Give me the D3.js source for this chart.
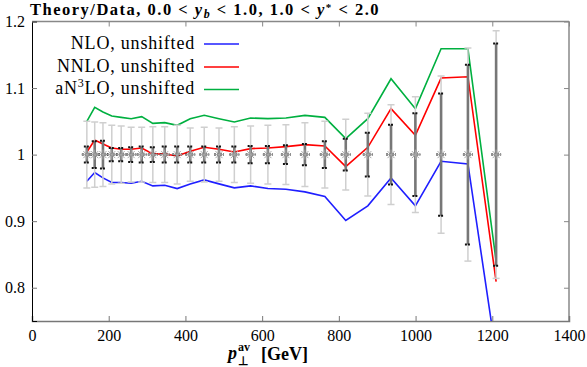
<!DOCTYPE html>
<html>
<head>
<meta charset="utf-8">
<script src="https://cdn.jsdelivr.net/npm/d3@7"></script>
<style>
  html, body { margin: 0; padding: 0; background: #fff; }
  svg { display: block; }
  text { font-family: "Liberation Serif", "Times New Roman", serif; fill: #000; }
</style>
</head>
<body>
<svg id="chart" width="587" height="367"></svg>
<script>
// ---- data ----
const ptAv = [143, 163.5, 185, 208, 232.5, 258.5, 286, 315, 346, 378.5, 412.5, 449, 487.5, 527.5, 570, 615, 662, 711.5, 763.5, 818, 875.5, 936, 999.5, 1066.5, 1136.5, 1210];
const nloRatio = [0.960, 0.973, 0.965, 0.958, 0.958, 0.957, 0.960, 0.953, 0.954, 0.949, 0.956, 0.962, 0.956, 0.950, 0.953, 0.949, 0.948, 0.944, 0.937, 0.901, 0.923, 0.965, 0.923, 0.990, 0.986, 0.700];
const nnloRatio = [1.004, 1.022, 1.016, 1.010, 1.008, 1.008, 1.010, 1.001, 1.001, 0.998, 1.005, 1.011, 1.008, 1.004, 1.009, 1.010, 1.012, 1.015, 1.013, 0.982, 1.011, 1.069, 1.029, 1.115, 1.117, 0.809];
const an3loRatio = [1.050, 1.071, 1.064, 1.058, 1.056, 1.054, 1.057, 1.047, 1.048, 1.044, 1.054, 1.059, 1.054, 1.049, 1.055, 1.054, 1.055, 1.059, 1.056, 1.024, 1.054, 1.114, 1.069, 1.159, 1.159, 0.840];
const dataRatio = [1, 1, 1, 1, 1, 1, 1, 1, 1, 1, 1, 1, 1, 1, 1, 1, 1, 1, 1, 1, 1, 1, 1, 1, 1, 1];
const errInner = [0.012, 0.020, 0.021, 0.010, 0.010, 0.011, 0.012, 0.011, 0.012, 0.012, 0.012, 0.012, 0.012, 0.012, 0.013, 0.013, 0.014, 0.016, 0.020, 0.024, 0.033, 0.045, 0.062, 0.092, 0.135, 0.167];
const errOuter = [0.050, 0.049, 0.048, 0.044, 0.043, 0.041, 0.041, 0.042, 0.042, 0.044, 0.040, 0.041, 0.040, 0.042, 0.043, 0.044, 0.045, 0.048, 0.050, 0.053, 0.062, 0.075, 0.087, 0.118, 0.160, 0.186];
const xTickValues = [0, 200, 400, 600, 800, 1000, 1200, 1400];
const yTickValues = [0.8, 0.9, 1.0, 1.1, 1.2];
const yTickLabels = ["0.8", "0.9", "1", "1.1", "1.2"];
const seriesNames = ["NLO, unshifted", "NNLO, unshifted", "aN3LO, unshifted"];
const seriesColors = ["#1f1fff", "#ff0000", "#00b040"];

// ---- layout ----
const L = 32, R = 569, T = 21.5, B = 321;
const svg = d3.select("#chart");
const x = d3.scaleLinear().domain([0, 1400]).range([L, R]);
const y = d3.scaleLinear().domain([0.75, 1.2]).range([B, T]);

svg.append("defs").append("clipPath").attr("id", "clip")
  .append("rect").attr("x", L).attr("y", T).attr("width", R - L).attr("height", B - T);

// frame
svg.append("line").attr("x1", L).attr("x2", R).attr("y1", T).attr("y2", T).attr("stroke", "#888").attr("stroke-width", 1.5);
svg.append("line").attr("x1", R).attr("x2", R).attr("y1", T).attr("y2", B).attr("stroke", "#888").attr("stroke-width", 1.5);

// axes
const xAxis = d3.axisBottom(x).tickValues(xTickValues).tickSize(-5).tickPadding(8).tickFormat(d3.format("d"));
const gx = svg.append("g").attr("transform", `translate(0,${B})`).call(xAxis);
gx.select(".domain").attr("stroke", "#777").attr("stroke-width", 1.5);
gx.selectAll(".tick line").attr("stroke", "#777");
gx.selectAll(".tick text").attr("font-family", "Liberation Serif").attr("font-size", 16).attr("dy", "0.75em").attr("fill", "#000");

const xAxisTop = d3.axisTop(x).tickValues(xTickValues).tickSize(-5).tickFormat("");
const gxt = svg.append("g").attr("transform", `translate(0,${T})`).call(xAxisTop);
gxt.select(".domain").remove();
gxt.selectAll(".tick line").attr("stroke", "#888");

const yAxis = d3.axisLeft(y).tickValues(yTickValues).tickSize(-5).tickPadding(7)
  .tickFormat((d, i) => yTickLabels[i]);
const gy = svg.append("g").attr("transform", `translate(${L},0)`).call(yAxis);
gy.select(".domain").attr("stroke", "#000").attr("stroke-width", 1);
gy.selectAll(".tick line").attr("stroke", "#777");
gy.selectAll(".tick text").attr("font-family", "Liberation Serif").attr("font-size", 16).attr("fill", "#000");

const yAxisRight = d3.axisRight(y).tickValues(yTickValues).tickSize(-5).tickFormat("");
const gyr = svg.append("g").attr("transform", `translate(${R},0)`).call(yAxisRight);
gyr.select(".domain").remove();
gyr.selectAll(".tick line").attr("stroke", "#888");

// theory lines
const plot = svg.append("g").attr("clip-path", "url(#clip)");
const series = [nloRatio, nnloRatio, an3loRatio];
const line = d3.line().x((d, i) => x(ptAv[i])).y(d => y(d));
series.forEach((s, k) => {
  plot.append("path").datum(s).attr("d", line)
    .attr("fill", "none").attr("stroke", seriesColors[k]).attr("stroke-width", 1.6)
    .attr("stroke-linejoin", "miter");
});

// data points with error bars
const pts = plot.selectAll("g.pt").data(ptAv.map((p, i) => ({ p, v: dataRatio[i], ei: errInner[i], eo: errOuter[i] })))
  .enter().append("g").attr("class", "pt");
// outer (light) bars
pts.append("line").attr("x1", d => x(d.p)).attr("x2", d => x(d.p))
  .attr("y1", d => y(d.v + d.eo)).attr("y2", d => y(d.v - d.eo))
  .attr("stroke", "#cfcfcf").attr("stroke-width", 1.5);
[1, -1].forEach(sg => {
  pts.append("line").attr("x1", d => x(d.p) - 3.5).attr("x2", d => x(d.p) + 3.5)
    .attr("y1", d => y(d.v + sg * d.eo)).attr("y2", d => y(d.v + sg * d.eo))
    .attr("stroke", "#cfcfcf").attr("stroke-width", 1.5);
});
// inner (dark) bars
pts.append("line").attr("x1", d => x(d.p)).attr("x2", d => x(d.p))
  .attr("y1", d => y(d.v + d.ei)).attr("y2", d => y(d.v - d.ei))
  .attr("stroke", "#777").attr("stroke-width", 2.6);
[1, -1].forEach(sg => {
  pts.append("line").attr("x1", d => x(d.p) - 3).attr("x2", d => x(d.p) + 3)
    .attr("y1", d => y(d.v + sg * d.ei)).attr("y2", d => y(d.v + sg * d.ei))
    .attr("stroke", "#111").attr("stroke-width", 2).attr("stroke-dasharray", "2,1");
});
// center marker: black dotted bar + gray asterisk
pts.append("line").attr("x1", d => x(d.p) - 5).attr("x2", d => x(d.p) + 5)
  .attr("y1", d => y(d.v)).attr("y2", d => y(d.v))
  .attr("stroke", "#111").attr("stroke-width", 2).attr("stroke-dasharray", "2,1");
[0, 45, 90, 135].forEach(a => {
  const r = 5, dx = r * Math.cos(a * Math.PI / 180), dy = r * Math.sin(a * Math.PI / 180);
  pts.append("line").attr("x1", d => x(d.p) - dx).attr("x2", d => x(d.p) + dx)
    .attr("y1", d => y(d.v) - dy).attr("y2", d => y(d.v) + dy)
    .attr("stroke", "#a8a8a8").attr("stroke-width", 1);
});

// legend
const legRows = [48.5, 71.5, 94];
seriesNames.forEach((name, k) => {
  const t = svg.append("text").attr("x", 195).attr("y", legRows[k]).attr("text-anchor", "end")
    .attr("font-size", 18).attr("letter-spacing", 0.8);
  if (k === 2) {
    t.append("tspan").text("aN");
    t.append("tspan").attr("dy", -7).attr("font-size", 12).text("3");
    t.append("tspan").attr("dy", 7).text("LO, unshifted");
  } else {
    t.text(name);
  }
  svg.append("line").attr("x1", 204).attr("x2", 239).attr("y1", legRows[k] - 4.5).attr("y2", legRows[k] - 4.5)
    .attr("stroke", seriesColors[k]).attr("stroke-width", 1.6);
});

// title
const title = svg.append("text").attr("x", 30).attr("y", 15).attr("font-size", 16.5).attr("font-weight", "bold")
  .attr("letter-spacing", 1.5);
title.append("tspan").text("Theory/Data, 0.0 < ");
title.append("tspan").attr("font-style", "italic").text("y");
title.append("tspan").attr("dy", 3).attr("font-size", 12).attr("font-style", "italic").text("b");
title.append("tspan").attr("dy", -3).text(" < 1.0, 1.0 < ");
title.append("tspan").attr("font-style", "italic").text("y");
title.append("tspan").attr("dy", -4).attr("font-size", 11).text("*");
title.append("tspan").attr("dy", 4).text(" < 2.0");

// x-axis label
const xl = svg.append("g").attr("font-weight", "bold");
xl.append("text").attr("x", 228).attr("y", 359).attr("font-size", 18).attr("font-style", "italic").attr("font-weight", "bold").text("p");
xl.append("text").attr("x", 238).attr("y", 365).attr("font-size", 12).attr("font-weight", "bold").text("⊥");
xl.append("text").attr("x", 238).attr("y", 351).attr("font-size", 12).attr("font-weight", "bold").text("av");
xl.append("text").attr("x", 261).attr("y", 360).attr("font-size", 18).attr("font-weight", "bold").text("[GeV]");
</script>
</body>
</html>
